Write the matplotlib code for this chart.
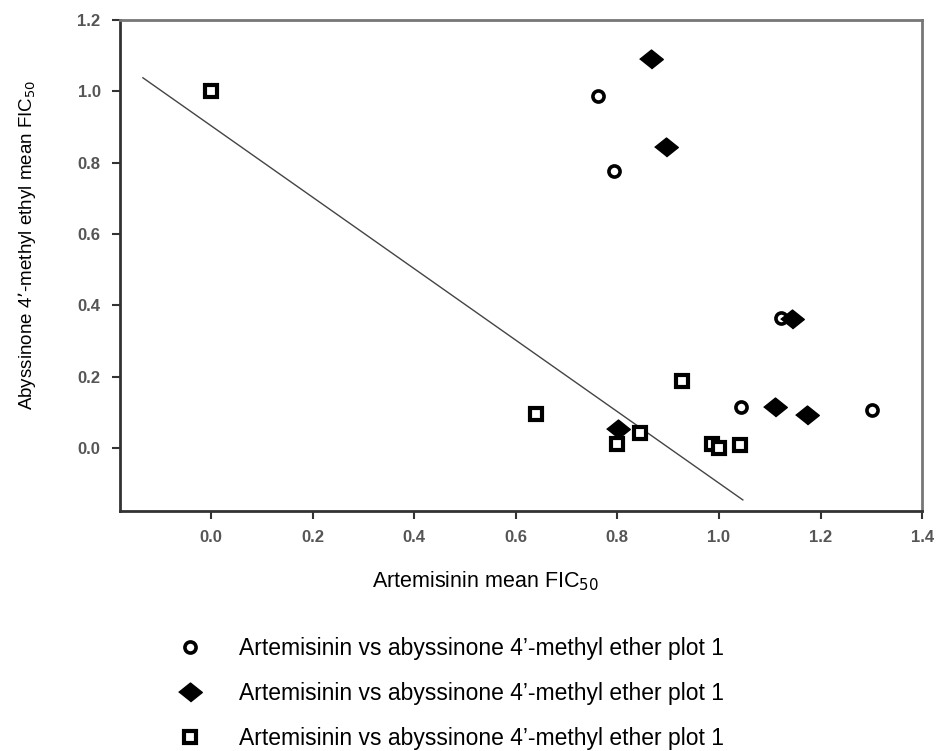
import numpy as np
import matplotlib
matplotlib.use("Agg")
import matplotlib.pyplot as plt

plt.rcParams["font.family"] = ["Liberation Sans", "DejaVu Sans"]

# data
circle_x = [0.0, 0.762, 0.793, 1.122, 1.043, 1.301]
circle_y = [1.0, 0.987, 0.778, 0.366, 0.115, 0.106]

diamond_x = [0.866, 0.895, 1.143, 1.110, 1.174, 0.802]
diamond_y = [1.091, 0.845, 0.361, 0.115, 0.092, 0.055]

square_x = [0.0, 0.639, 0.800, 0.845, 0.927, 0.986, 1.000, 1.041]
square_y = [1.0, 0.095, 0.013, 0.043, 0.188, 0.013, 0.0, 0.008]

line_x = [-0.134, 1.047]
line_y = [1.038, -0.145]

x_ticks = [0.0, 0.2, 0.4, 0.6, 0.8, 1.0, 1.2, 1.4]
y_ticks = [0.0, 0.2, 0.4, 0.6, 0.8, 1.0, 1.2]

series_label = "Artemisinin vs abyssinone 4\u2019-methyl ether plot 1"

# slightly flattened diamond
diamond = [(-1, 0), (0, 0.8), (1, 0), (0, -0.8)]

fig = plt.figure(figsize=(9.4, 7.51), dpi=100)
ax = fig.add_axes([0.1277, 0.3196, 0.8533, 0.6538])

ax.plot(line_x, line_y, color="#444444", lw=1.0)

ax.plot(circle_x, circle_y, "o", ms=8, mfc="white", mec="black", mew=2.6,
        label=series_label)
ax.plot(diamond_x, diamond_y, marker=diamond, ls="none", ms=17, mfc="black",
        mec="black", label=series_label)
ax.plot(square_x, square_y, "s", ms=8, mfc="white", mec="black", mew=3,
        label=series_label)

ax.set_xlim(-0.179, 1.4)
ax.set_ylim(-0.176, 1.2)
ax.set_xticks(x_ticks)
ax.set_yticks(y_ticks)
ax.set_xticklabels([f"{v:.1f}" for v in x_ticks])
ax.set_yticklabels([f"{v:.1f}" for v in y_ticks])
ax.tick_params(direction="out", length=6, width=1.5, color="#333333",
               labelsize=12, labelcolor="#555555", pad=8)
for lab in ax.get_xticklabels() + ax.get_yticklabels():
    lab.set_fontweight("bold")

for side in ["left", "bottom"]:
    ax.spines[side].set_linewidth(2)
    ax.spines[side].set_color("#333333")
for side in ["top", "right"]:
    ax.spines[side].set_linewidth(2)
    ax.spines[side].set_color("#777777")

ax.set_xlabel("Artemisinin mean FIC$_{50}$", fontsize=15.5)
ax.xaxis.set_label_coords(0.456, -0.118)
ax.set_ylabel("Abyssinone 4\u2019-methyl ethyl mean FIC$_{50}$", fontsize=13.5)
ax.yaxis.set_label_coords(-0.102, 0.542)

fig.legend(loc="upper left", bbox_to_anchor=(0.1801, 0.1638), frameon=False,
           fontsize=16.5, labelspacing=0.96, handletextpad=1.64,
           handlelength=1.0, borderaxespad=0)

fig.savefig("out.png", dpi=100)
